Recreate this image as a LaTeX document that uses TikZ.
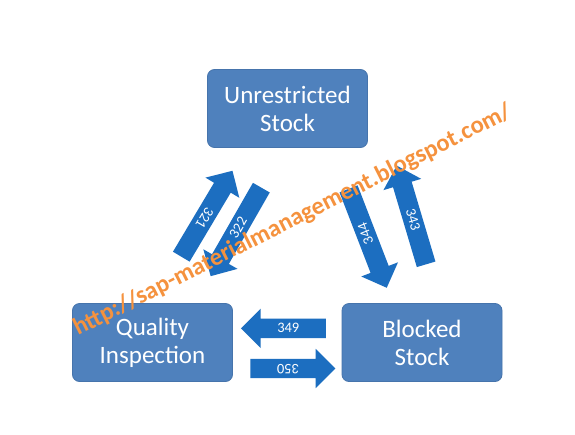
\documentclass[tikz,border=0pt]{standalone}
\usepackage{fontspec}
\setmainfont{Carlito}
\usetikzlibrary{shapes.arrows}
\definecolor{boxblue}{RGB}{79,129,189}
\definecolor{boxline}{RGB}{70,116,172}
\definecolor{arrblue}{RGB}{28,110,192}
\definecolor{wmorange}{RGB}{245,146,62}
\begin{document}
\begin{tikzpicture}[x=1pt,y=1pt,
 stockbox/.style={draw=boxline, line width=0.8pt, fill=boxblue, rounded corners=7pt,
   minimum width=160pt, minimum height=78pt, inner sep=0pt, text=white, align=center,
   font=\fontsize{25}{28}\selectfont},
 blockarrow/.style={single arrow, shape border rotate=180, fill=arrblue, draw=none,
   text=white, font=\fontsize{14.5}{14.5}\selectfont, inner xsep=0pt, inner ysep=0pt,
   text height=13.8pt, text depth=5.2pt, single arrow head extend=10pt,
   single arrow tip angle=90, single arrow head indent=0pt, minimum width=39pt}]
\useasboundingbox[fill=white] (0,0) rectangle (575,-434);
\node[stockbox] (unr) at (287.5,-108.5) {Unrestricted\\Stock};
\node[stockbox] (qi) at (152.5,-342.5) {Quality\\Inspection};
\node[stockbox] (blk) at (422,-342.5) {Blocked\\Stock};
\node[blockarrow, minimum height=100pt, rotate=-120.8] (a321) at (204.4,-217.9) {321};
\node[blockarrow, minimum height=102pt, rotate=60.2] (a322) at (238.4,-227.7) {322};
\node[blockarrow, minimum height=106pt, rotate=111.1] (a344) at (365.9,-233.8) {344};
\node[blockarrow, minimum height=103pt, rotate=-73.4] (a343) at (412.8,-219.6) {343};
\node[blockarrow, minimum height=85pt, rotate=0] (a349) at (288.3,-328.3) {349};
\node[blockarrow, minimum height=85pt, rotate=180] (a350) at (288,-368.5) {350};
\node[rotate=26.8, anchor=base west, text=wmorange, inner sep=0pt,
   font=\bfseries\fontsize{24.5}{24.5}\selectfont] (wm) at (78,-336)
   {http://sap-materialmanagement.blogspot.com/};
\end{tikzpicture}
\end{document}
